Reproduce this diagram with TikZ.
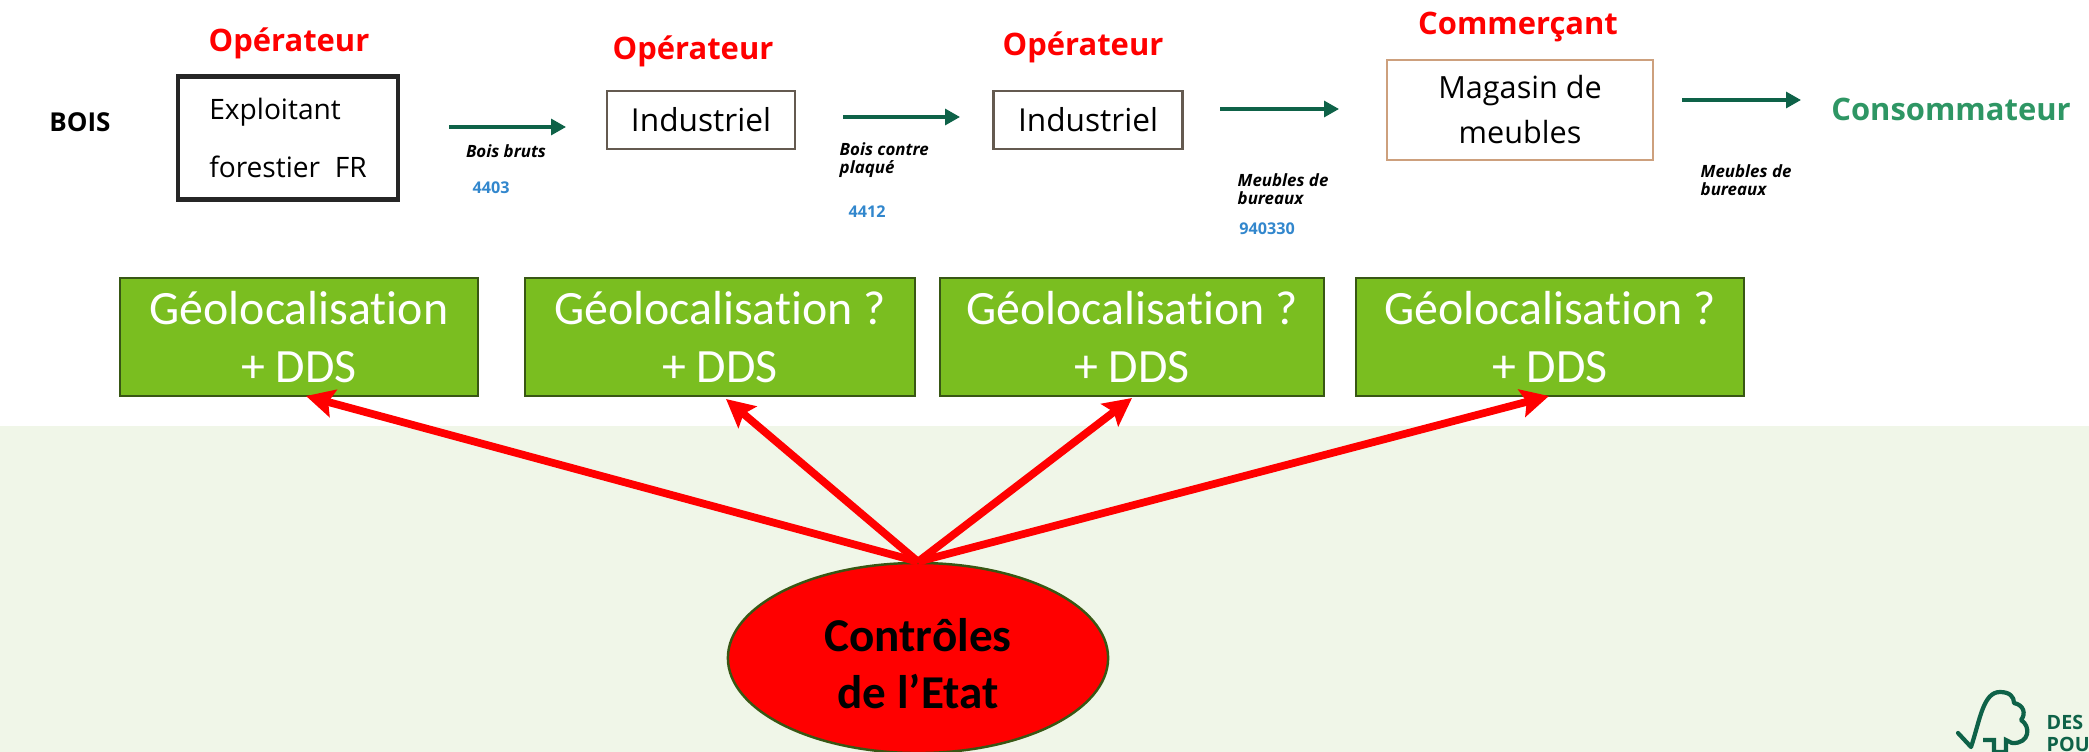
\documentclass[tikz,border=0pt]{standalone}
\usepackage{fontspec}
\usepackage{tikz}
\usetikzlibrary{shapes.geometric,arrows.meta}
\setmainfont{Carlito}[Ligatures=NoCommon]
\newfontfamily\flowfont{Open Sans}
\definecolor{fcgreen}{RGB}{122,190,32}
\definecolor{fcdark}{RGB}{56,87,20}
\definecolor{fcpale}{RGB}{240,246,232}
\definecolor{fcarrow}{RGB}{14,98,72}
\definecolor{fcconsumer}{RGB}{46,150,100}
\definecolor{fcblue}{RGB}{50,135,205}
\definecolor{fcbrown}{RGB}{205,160,125}
\definecolor{fcgrey}{RGB}{100,90,80}

\begin{document}
\begin{tikzpicture}[
  x=0.01cm, y=-0.01cm,
  actor/.style={font=\flowfont\fontsize{8.8}{10}\selectfont\bfseries, text=red},
  flowbox/.style={rectangle, draw=fcgrey, line width=0.7pt, fill=white, align=center, font=\flowfont\fontsize{9}{11}\selectfont, inner sep=0pt},
  goods/.style={font=\flowfont\fontsize{4.8}{5.2}\selectfont\bfseries\itshape, align=left, inner sep=0pt},
  code/.style={font=\flowfont\fontsize{4.6}{5}\selectfont\bfseries, text=fcblue, inner sep=0pt},
  geoloc/.style={rectangle, draw=fcdark, line width=0.6pt, fill=fcgreen, text=white, align=center, minimum height=1.18cm, inner sep=0pt, font=\fontsize{13.6}{16.5}\selectfont},
  flow/.style={-{Stealth[length=0.15cm, width=0.16cm, inset=0pt]}, draw=fcarrow, line width=0.9pt},
  control/.style={-{Stealth[length=0.28cm, width=0.28cm, inset=0.05cm]}, draw=red, line width=2.2pt}
]
\useasboundingbox (0,0) rectangle (2089,752);

% Background
\fill[fcpale] (0,426) rectangle (2089,752);

% Top row - chain
\node[font=\flowfont\fontsize{7.4}{9}\selectfont\bfseries] (bois) at (80,122) {BOIS};

\node[flowbox, minimum width=2.2cm, minimum height=1.23cm, line width=1.2pt, draw=black!85, align=left, font=\flowfont\fontsize{8}{16.7}\selectfont] (b1) at (288,138) {Exploitant\\forestier~~FR};
\node[flowbox, minimum width=1.88cm, minimum height=0.58cm] (b2) at (701,120) {Industriel};
\node[flowbox, minimum width=1.89cm, minimum height=0.58cm] (b3) at (1088,120) {Industriel};
\node[flowbox, minimum width=2.66cm, minimum height=1cm, draw=fcbrown, font=\flowfont\fontsize{8.7}{12.8}\selectfont] (b4) at (1520,110) {Magasin de\\meubles};

\node[actor] (a1) at (289,43) {Opérateur};
\node[actor] (a2) at (693,51) {Opérateur};
\node[actor] (a3) at (1083,47) {Opérateur};
\node[actor] (a4) at (1518,27) {Commerçant};
\node[actor, text=fcconsumer] (conso) at (1951,109) {Consommateur};

% Green arrows
\coordinate (f1s) at (449,127); \coordinate (f1e) at (566,127);
\coordinate (f2s) at (843,117); \coordinate (f2e) at (960,117);
\coordinate (f3s) at (1220,109); \coordinate (f3e) at (1339,109);
\coordinate (f4s) at (1682,100); \coordinate (f4e) at (1801,100);
\draw[flow] (f1s) -- (f1e);
\draw[flow] (f2s) -- (f2e);
\draw[flow] (f3s) -- (f3e);
\draw[flow] (f4s) -- (f4e);

% Goods and codes
\node[goods] (g1) at (506,151) {Bois bruts};
\node[code] (c1) at (491,188) {4403};
\node[goods, anchor=west] (g2) at (839,160) {Bois contre\\plaqué};
\node[code] (c2) at (867,212) {4412};
\node[goods, anchor=west] (g3) at (1237,189) {Meubles de\\bureaux};
\node[code] (c3) at (1267,229) {940330};
\node[goods, anchor=west] (g4) at (1700,180) {Meubles de\\bureaux};

% Requirements
\node[geoloc, minimum width=3.58cm] (r1) at (299,337) {Géolocalisation\\+ DDS};
\node[geoloc, minimum width=3.90cm] (r2) at (720,337) {Géolocalisation ?\\+ DDS};
\node[geoloc, minimum width=3.83cm] (r3) at (1132,337) {Géolocalisation ?\\+ DDS};
\node[geoloc, minimum width=3.88cm] (r4) at (1550,337) {Géolocalisation ?\\+ DDS};

% Controls
\node[ellipse, draw=fcdark, line width=0.7pt, fill=red, minimum width=3.8cm, minimum height=1.9cm, inner sep=0pt, align=center, font=\fontsize{13.4}{16.2}\selectfont\bfseries] (ctrl) at (918,658) {\rule{0pt}{12.5pt}Contrôles\\de l’Etat};

\coordinate (t1) at (306,396);
\coordinate (t2) at (726,399);
\coordinate (t3) at (1132,398);
\coordinate (t4) at (1549,396);
\draw[control] (ctrl.north) -- (t1);
\draw[control] (ctrl.north) -- (t2);
\draw[control] (ctrl.north) -- (t3);
\draw[control] (ctrl.north) -- (t4);

% Logo
\draw[fcarrow, line width=1.2pt, line cap=round, line join=round] (1958,733) -- (1971,747) .. controls (1980,720) and (1983,692) .. (2000,692) .. controls (2010,692) and (2014,697) .. (2014,703) .. controls (2024,705) and (2026,714) .. (2021,720) .. controls (2031,726) and (2030,744) .. (2012,743);
\draw[fcarrow, line width=1.2pt] (1983,740) -- (1994,740) -- (1994,752) -- (2006,752) -- (2006,740) -- (2012,743);
\node[font=\flowfont\fontsize{5.6}{6}\selectfont\bfseries, text=fcarrow, anchor=north west, align=left, inner sep=0pt] (logo) at (2046,715) {DES\\POU};
\end{tikzpicture}
\end{document}
